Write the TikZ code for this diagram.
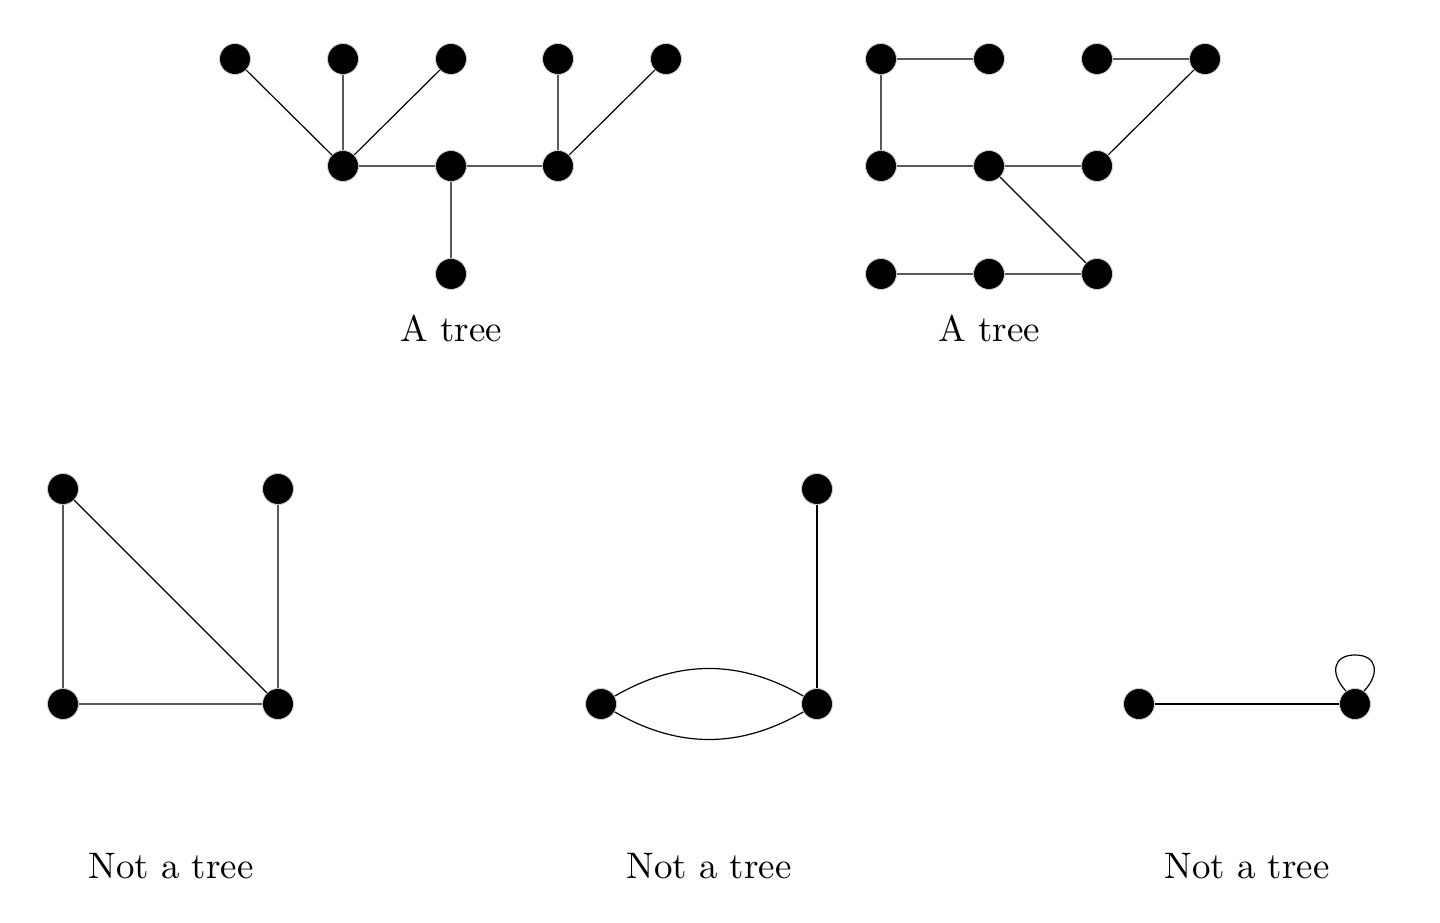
\documentclass[tikz,border=0pt]{standalone}
\begin{document}
\begin{tikzpicture}[x=1pt,y=1pt,
  vtx/.style={circle,fill=black,draw=gray!35,line width=0.8pt,minimum size=31pt,inner sep=0pt},
  edge/.style={line width=1.2pt},
  lbl/.style={font=\normalsize,scale=3.69,inner sep=0pt}]
\useasboundingbox (0,0) rectangle (1440,923);
% Tree 1
\node[vtx] (a1) at (235,864) {};
\node[vtx] (a2) at (343,864) {};
\node[vtx] (a3) at (451,864) {};
\node[vtx] (a4) at (558,864) {};
\node[vtx] (a5) at (666,864) {};
\node[vtx] (b1) at (343,757) {};
\node[vtx] (b2) at (451,757) {};
\node[vtx] (b3) at (558,757) {};
\node[vtx] (c1) at (451,649) {};
\draw[edge] (a1)--(b1) (a2)--(b1) (a3)--(b1) (b1)--(b2) (b2)--(b3) (a4)--(b3) (a5)--(b3) (b2)--(c1);
\node[lbl] (l1) at (451,594) {A tree};
% Tree 2
\node[vtx] (d1) at (881,864) {};
\node[vtx] (d2) at (989,864) {};
\node[vtx] (d3) at (1097,864) {};
\node[vtx] (d4) at (1205,864) {};
\node[vtx] (e1) at (881,757) {};
\node[vtx] (e2) at (989,757) {};
\node[vtx] (e3) at (1097,757) {};
\node[vtx] (f1) at (881,649) {};
\node[vtx] (f2) at (989,649) {};
\node[vtx] (f3) at (1097,649) {};
\draw[edge] (d1)--(d2) (d1)--(e1) (e1)--(e2) (e2)--(e3) (e3)--(d4) (d3)--(d4) (e2)--(f3) (f1)--(f2) (f2)--(f3);
\node[lbl] (l2) at (989,594) {A tree};
% Not a tree 1
\node[vtx] (g1) at (63,434) {};
\node[vtx] (g2) at (278,434) {};
\node[vtx] (g3) at (63,219) {};
\node[vtx] (g4) at (278,219) {};
\draw[edge] (g1)--(g3) (g1)--(g4) (g2)--(g4) (g3)--(g4);
\node[lbl] (l3) at (171,57) {Not a tree};
% Not a tree 2
\node[vtx] (h1) at (817,434) {};
\node[vtx] (h2) at (601,219) {};
\node[vtx] (h3) at (817,219) {};
\draw[edge] (h1)--(h3);
\draw[edge] (h2) to[bend left=30] (h3);
\draw[edge] (h2) to[bend right=30] (h3);
\node[lbl] (l4) at (709,57) {Not a tree};
% Not a tree 3
\node[vtx] (k1) at (1139,219) {};
\node[vtx] (k2) at (1355,219) {};
\coordinate (k2t) at (1355,268);
\draw[edge] (k1)--(k2);
\draw[edge] (k2.125) .. controls +(-16.4,17.7) and +(-22,0) .. (k2t) .. controls +(22,0) and +(16.4,17.7) .. (k2.55);
\node[lbl] (l5) at (1247,57) {Not a tree};
\end{tikzpicture}
\end{document}
